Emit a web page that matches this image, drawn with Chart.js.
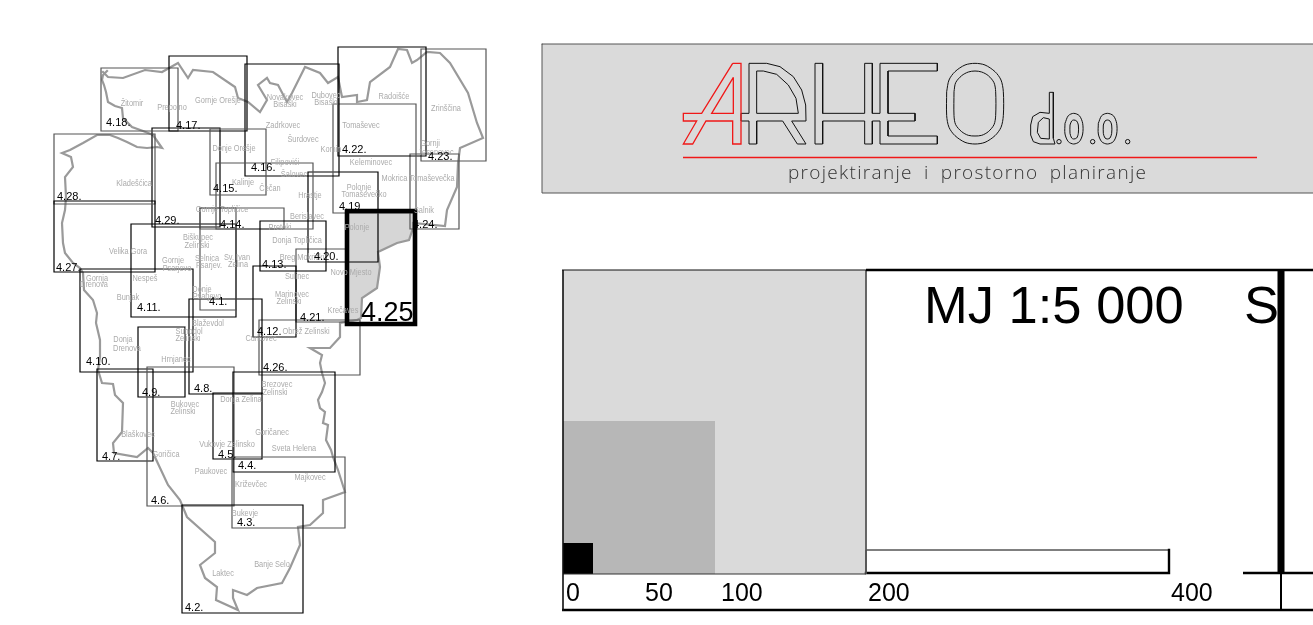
<!DOCTYPE html>
<html>
<head>
<meta charset="utf-8">
<style>
  html, body { margin: 0; padding: 0; background: #fff; overflow: hidden; }
  canvas { display: block; }
</style>
<script src="https://cdn.jsdelivr.net/npm/chart.js@4"></script>
</head>
<body>
<canvas id="myChart" width="1313" height="625"></canvas>
<script>
// map sheets: left, top, right, bottom
let sheetNames = ['4.1.', '4.2.', '4.3.', '4.4.', '4.5.', '4.6.', '4.7.', '4.8.', '4.9.', '4.10.', '4.11.', '4.12.', '4.13.', '4.14.', '4.15.', '4.16.', '4.17.', '4.18.', '4.19', '4.20.', '4.21.', '4.22.', '4.23.', '4.24.', '4.26.', '4.27.', '4.28.', '4.29.'];
let sheetBoxes = [[200,208,236,310], [182,505,303,613], [232,457,345,528], [233,372,335,472], [213,393,262,459], [147,367,234,506], [97,369,153,461], [189,299,262,394], [138,327,185,397], [80,269,193,372], [131,224,236,317], [253,266,296,337], [260,221,326,271], [216,163,313,229], [210,129,266,195], [245,64,339,176], [169,56,247,131], [101,68,178,131], [333,104,416,213], [308,172,378,262], [296,249,347,322], [338,47,426,156], [421,49,486,161], [410,154,459,229], [259,320,360,375], [54,201,155,272], [54,134,155,204], [152,128,220,227]];
let sheetLabelX = [209,185,237,238,218,151,102,194,142,86,137,257,262,220,213,251,176,106,339,314,300,342,428,413,263,56,57,155];
let sheetLabelY = [301,607,522,465,454,500,456,388,392,361,307,331,264,224,188,167,125,122,206,256,317,149,156,224,367,267,196,220];
let greySheets = ['4.1.', '4.3.', '4.6.', '4.14.', '4.15.', '4.18.', '4.19', '4.21.', '4.23.', '4.24.', '4.26.', '4.28.'];
let extraBox = [200,208,284,229];
let activeBox = [347,211,415,324];

let boundaryWest = [[107,71],[103,75],[102,80],[104,85],[106,92],[108,102],[115,106],[122,108],[123,118],[132,127],[143,131],[153,135],[162,148],[157,147],[147,148],[137,147],[127,142],[118,138],[110,135],[97,135],[83,143],[70,150],[62,153],[71,157],[73,167],[65,177],[66,197],[65,210],[62,223],[63,243],[65,253],[73,263],[80,268],[83,273],[84,290],[93,300],[97,313],[96,323],[100,340],[100,357],[98,370],[102,383],[113,384],[115,395],[123,403],[122,432],[113,443],[114,453],[137,457],[148,448],[153,453],[168,485],[180,500],[187,517],[215,542],[215,553],[200,565],[205,578],[217,587],[216,600],[238,610],[233,598],[233,590],[247,595],[257,588],[282,583],[290,568],[300,545],[298,527],[310,525],[323,513],[323,500],[345,492],[338,470],[333,457],[331,450],[326,440],[328,425],[323,423],[325,412],[320,408],[318,400],[322,392],[325,383],[322,373],[320,363],[322,355],[310,348],[330,348],[340,337],[340,323],[357,320],[361,318],[362,298],[377,288],[380,267],[378,252],[397,243],[409,240],[413,228],[413,223],[445,226],[447,210],[457,187],[458,163],[460,148],[483,138],[477,123],[468,93],[450,63],[440,53],[427,52],[417,60],[412,63],[407,50],[398,49],[390,67],[370,82],[367,100],[357,102],[357,95],[342,97],[338,77],[328,83],[320,73],[305,67],[302,73],[292,93],[287,102],[278,85],[270,83],[267,78],[258,85],[267,100],[260,112],[248,102],[238,98],[235,87],[213,72],[193,70],[188,78],[178,63],[162,72],[145,70],[123,78],[108,77],[103,72]];
let activeArea = [[347,211],[415,211],[415,222],[413,228],[409,240],[397,243],[378,252],[380,267],[377,288],[362,298],[361,318],[347,325],[347,211]];

let townNames = ['Žitomir','Prepolno','Gornje Orešje','Novakovec','Bisaški','Dubovec','Bisaški','Radoišće','Zrinščina','Zadrkovec','Tomaševec','Šurdovec','Komin','Gornji','Jesenovec','Keleminovec','Mokrica Tomaševečka','Filipovići','Šalovec','Čečan','Hrastje','Polonje','Tomaševečko','Salnik','Polonje','Berislavec','Pretoki','Donja Topličica','Breg Mokrički','Sulinec','Novo Mjesto','Marinovec','Zelinski','Kladešćica','Donje Orešje','Kalinje','Gornje Topličice','Biškupec','Zelinski','Velika Gora','Selnica','Psarjev.','Sv. Ivan','Zelina','Gornje','Psarjevo','Nespeš','Gornja','Drenova','Bunjak','Donje','Psarjevo','Blaževdol','Suhodol','Zelinski','Donja','Drenova','Hrnjanec','Curkovec','Obrež Zelinski','Krečaves','Brezovec','Zelinski','Donja Zelina','Bukovec','Zelinski','Blaškovec','Goričanec','Vukovje Zelinsko','Sveta Helena','Goričica','Paukovec','Majkovec','Križevčec','Bukevje','Banje Selo','Laktec'];
let townX = [132,172,218,285,285,326,326,394,446,283,361,303,331,430,436,371,418,285,294,270,310,359,364,424,357,307,280,297,302,297,351,292,289,134,234,243,222,198,197,128,207,209,237,238,173,177,145,97,94,128,202,207,208,189,188,123,127,176,261,306,343,277,275,241,185,183,138,272,227,294,166,211,310,251,245,272,223];
let townY = [103,107,100,97,104,95,102,96,108,125,125,139,149,143,152,162,178,162,174,188,195,187,194,210,227,216,227,240,257,276,272,294,301,183,148,182,209,237,245,251,258,265,257,264,260,268,278,278,284,297,289,296,323,331,338,339,348,359,338,331,310,384,392,399,404,411,434,432,444,448,454,471,477,484,513,564,573];

// logo drawn on its own scale, one image pixel = 3 units
let logoRedOuter = [[218,55],[243,55],[243,297],[218,297],[218,228],[138,228],[98,297],[70,297],[110,228],[70,228],[70,205],[125,205],[218,55]];
let logoRedInner = [[220,97],[155,205],[220,205],[220,97]];
let logoROuter = [[267,55],[320,55],[360,65],[400,95],[425,135],[437,180],[438,228],[395,228],[438,297],[412,297],[368,228],[290,228],[290,297],[267,297],[267,228],[243,228],[243,205],[267,205],[267,55]];
let logoRInner = [[290,78],[310,78],[350,88],[385,120],[408,160],[415,205],[290,205],[290,78]];
let logoHE = [[465,55],[488,55],[488,205],[614,205],[614,55],[637,55],[637,205],[660,205],[660,55],[832,55],[832,78],[684,78],[684,205],[765,205],[765,228],[684,228],[684,273],[832,273],[832,297],[660,297],[660,228],[637,228],[637,297],[614,297],[614,228],[488,228],[488,297],[465,297],[465,55]];
let logoOOuter = [[860,140],[867,105],[885,80],[915,60],[945,55],[975,60],[1005,80],[1023,105],[1030,140],[1030,212],[1023,247],[1005,272],[975,292],[945,297],[915,292],[885,272],[867,247],[860,212],[860,140]];
let logoOInner = [[882,140],[887,113],[905,92],[925,81],[945,78],[965,81],[985,92],[1002,113],[1007,140],[1007,212],[1002,239],[985,260],[965,271],[945,273],[925,271],[905,260],[887,239],[882,212],[882,140]];
let logoD = [[1168,205],[1168,142],[1180,142],[1180,280],[1185,297],[1140,297],[1120,290],[1112,270],[1112,240],[1118,215],[1140,202],[1168,205]];
let logoDInner = [[1168,222],[1150,218],[1135,232],[1132,262],[1142,280],[1168,282],[1168,222]];
let logoO1 = [[1215,235],[1225,212],[1241,205],[1258,212],[1268,235],[1268,267],[1258,290],[1241,297],[1225,290],[1215,267],[1215,235]];
let logoO1Inner = [[1230,240],[1235,228],[1241,225],[1250,228],[1255,240],[1255,265],[1250,279],[1241,282],[1235,279],[1230,265],[1230,240]];
let logoO2 = [[1315,235],[1325,212],[1342,205],[1360,212],[1370,235],[1370,267],[1360,290],[1342,297],[1325,290],[1315,267],[1315,235]];
let logoO2Inner = [[1330,240],[1335,228],[1342,225],[1350,228],[1355,240],[1355,265],[1350,279],[1342,282],[1335,279],[1330,265],[1330,240]];
let logoDots = [[1197,290],[1298,290],[1403,290]];
let redRule = [[683,157.5],[1257,157.5]];
let logoPanel = [[542,44],[1320,44],[1320,193],[542,193],[542,44]];

// scale key
let scaleLabels = ['0', '50', '100', '200', '400'];
let scaleLabelX = [566, 645, 721, 868, 1171];
let keyLarge = [[563,270],[866,270],[866,574],[563,574],[563,270]];
let keyMedium = [[563,421],[715,421],[715,574],[563,574],[563,421]];
let keySmall = [[563,543],[593,543],[593,574],[563,574],[563,543]];
let barOutline = [[866,550],[1169,550],[1169,573],[866,573],[866,550]];
let frameTopKey = [[562,270],[866,270]];
let frameTop = [[866,270],[1313,270]];
let frameLeft = [[563,270],[563,611]];
let frameBottom = [[562,610],[1313,610]];
let keyBase = [[563,574],[866,574]];
let keySide = [[866,270],[866,574]];
let divider = [[1281,270],[1281,573]];
let dividerLow = [[1281,573],[1281,610]];
let dividerFoot = [[1243,573],[1313,573]];

function toPoints(list) {
  return list.map(p => ({ x: p[0], y: p[1] }));
}

function boxPoints(b) {
  return [{ x: b[0], y: b[1] }, { x: b[2], y: b[1] }, { x: b[2], y: b[3] }, { x: b[0], y: b[3] }, { x: b[0], y: b[1] }];
}

function line(list, color, width, order) {
  return { data: list, showLine: true, pointRadius: 0, borderColor: color, borderWidth: width, fill: false, order: order, borderJoinStyle: 'miter', borderCapStyle: 'square' };
}

function flatLine(list, color, width, order) {
  let d = line(toPoints(list), color, width, order);
  d.borderCapStyle = 'butt';
  return d;
}

function area(list, color, order) {
  return { data: toPoints(list), showLine: true, pointRadius: 0, borderColor: 'transparent', borderWidth: 0, backgroundColor: color, fill: 'shape', order: order };
}

function logoLine(list, color, curve, width) {
  let d = line(toPoints(list), color, width || 1, 3);
  d.xAxisID = 'logoX';
  d.yAxisID = 'logoY';
  d.tension = curve ? 0.3 : 0;
  d.borderCapStyle = 'butt';
  return d;
}

let datasets = [];
datasets.push(area(logoPanel, '#dadada', 9));
datasets.push(line(toPoints(logoPanel), '#555555', 1, 8));
datasets.push(area(keyLarge, '#dadada', 9));
datasets.push(area(keyMedium, '#b7b7b7', 8));
datasets.push(area(keySmall, '#000000', 7));
datasets.push(area(activeArea, '#d6d6d6', 9));

datasets.push(line(toPoints(boundaryWest), '#9a9a9a', 2.2, 5));
sheetNames.forEach((name, i) => {
  let color = greySheets.includes(name) ? '#555555' : '#000000';
  datasets.push(line(boxPoints(sheetBoxes[i]), color, 1.2, 4));
});
datasets.push(line(boxPoints(extraBox), '#555555', 1.2, 4));
datasets.push(line(boxPoints(activeBox), '#000000', 4.6, 2));

[logoRedOuter, logoRedInner].forEach(s => datasets.push(logoLine(s, '#f01818', false, 1.3)));
[logoROuter, logoRInner, logoHE, logoD, logoDInner].forEach(s => datasets.push(logoLine(s, '#111111', false)));
[logoOOuter, logoOInner, logoO1, logoO1Inner, logoO2, logoO2Inner].forEach(s => datasets.push(logoLine(s, '#111111', true)));
datasets.push({ data: toPoints(logoDots), xAxisID: 'logoX', yAxisID: 'logoY', pointRadius: 2.2, pointBackgroundColor: 'transparent', pointBorderColor: '#111111', pointBorderWidth: 1, showLine: false, order: 3 });
datasets.push(flatLine(redRule, '#f01818', 1.6, 0));

datasets.push(flatLine(frameTopKey, '#111111', 1.2, 1));
datasets.push(flatLine(frameTop, '#000000', 2.4, 1));
datasets.push(flatLine(frameLeft, '#111111', 1.6, 1));
datasets.push(flatLine(frameBottom, '#000000', 2.4, 1));
datasets.push(flatLine(keyBase, '#333333', 1.2, 1));
datasets.push(flatLine(keySide, '#555555', 1, 1));
datasets.push(flatLine(barOutline, '#000000', 1, 1));
datasets.push(line(toPoints([barOutline[1], barOutline[2], barOutline[3]]), '#000000', 2.4, 1));
datasets.push(flatLine(divider, '#000000', 7, 1));
datasets.push(flatLine(dividerLow, '#000000', 2, 1));
datasets.push(flatLine(dividerFoot, '#000000', 2.4, 1));

const textLayer = {
  id: 'textLayer',
  afterDatasetsDraw(chart) {
    let c = chart.ctx;
    let xs = chart.scales.x;
    let ys = chart.scales.y;
    c.save();
    c.textBaseline = 'alphabetic';

    c.fillStyle = '#ababab';
    c.font = '9px "Liberation Sans"';
    c.textAlign = 'center';
    townNames.forEach((name, i) => {
      c.save();
      c.translate(xs.getPixelForValue(townX[i]), ys.getPixelForValue(townY[i]) + 3);
      c.scale(0.82, 1);
      c.fillText(name, 0, 0);
      c.restore();
    });

    c.textAlign = 'left';
    c.fillStyle = '#000';
    c.font = '11px "Liberation Sans"';
    sheetNames.forEach((name, i) => {
      c.fillText(name, xs.getPixelForValue(sheetLabelX[i]), ys.getPixelForValue(sheetLabelY[i]) + 4);
    });

    c.font = '27px "Liberation Sans"';
    c.fillText('4.25', xs.getPixelForValue(361), ys.getPixelForValue(321));

    c.font = '52.5px "Liberation Sans"';
    c.fillText('MJ 1:5 000', xs.getPixelForValue(924), ys.getPixelForValue(323));
    c.fillText('S', xs.getPixelForValue(1244), ys.getPixelForValue(323));

    c.font = '25px "Liberation Sans"';
    scaleLabels.forEach((t, i) => {
      c.fillText(t, xs.getPixelForValue(scaleLabelX[i]), ys.getPixelForValue(601));
    });

    c.font = '300 19px "Open Sans"';
    c.fillStyle = '#333';
    c.letterSpacing = '1.3px';
    c.wordSpacing = '5px';
    c.fillText('projektiranje i prostorno planiranje', xs.getPixelForValue(788), ys.getPixelForValue(179));
    c.restore();
  }
};

let ctx = document.getElementById('myChart').getContext('2d');
let myChart = new Chart(ctx, {
  type: 'scatter',
  data: { datasets: datasets },
  plugins: [textLayer],
  options: {
    responsive: false,
    animation: false,
    layout: { padding: 0, autoPadding: false },
    plugins: { legend: { display: false }, tooltip: { enabled: false } },
    scales: {
      x: { type: 'linear', display: false, min: 0, max: 1313 },
      y: { type: 'linear', display: false, min: 0, max: 625, reverse: true },
      logoX: { type: 'linear', display: false, axis: 'x', min: -1980, max: 1959 },
      logoY: { type: 'linear', display: false, axis: 'y', min: -135, max: 1740, reverse: true }
    }
  }
});
</script>
</body>
</html>
